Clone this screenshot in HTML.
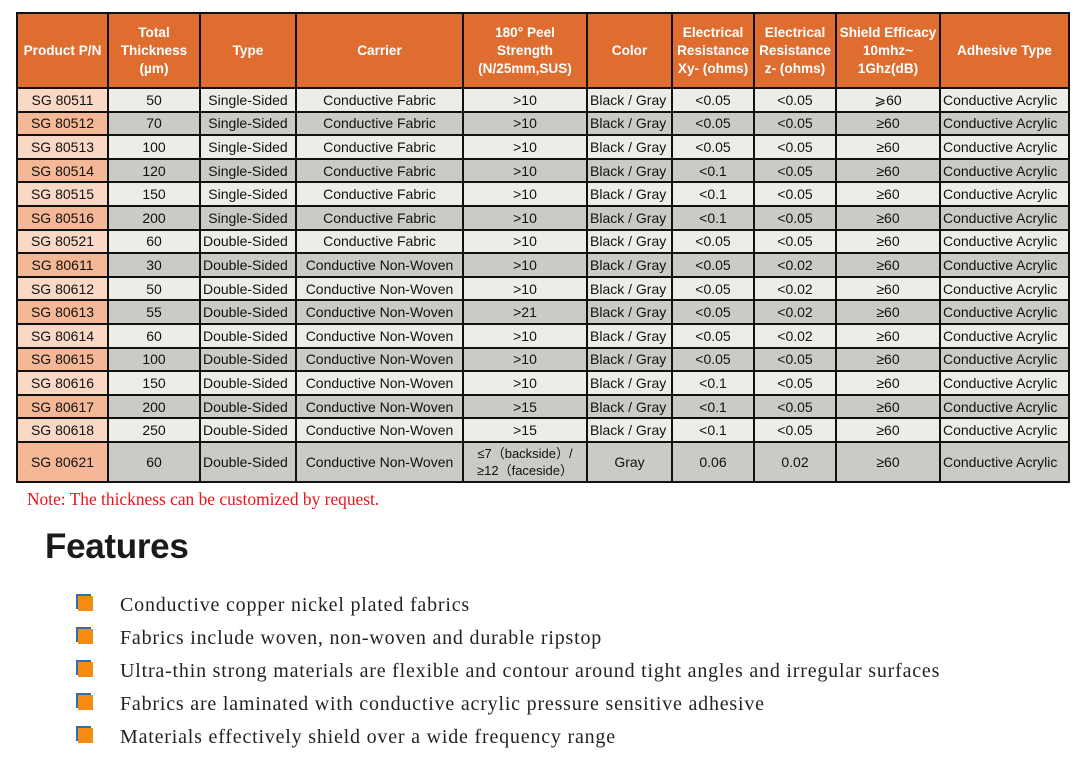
<!DOCTYPE html>
<html><head><meta charset="utf-8"><style>
body{margin:0;width:1084px;height:767px;background:#fff;position:relative;overflow:hidden;font-family:"Liberation Sans",Arial,sans-serif}
table{position:absolute;left:16px;top:12px;border-collapse:collapse;table-layout:fixed;width:1053px}
td,th{border:2px solid #111;text-align:center;font-size:14px;color:#111;padding:0;white-space:nowrap;overflow:hidden}
th{background:#e06d30;color:#fff;font-weight:bold;height:73px;line-height:18px;font-size:13.6px}
td{height:21.6px;line-height:18px}
tr.a td{background:#ececE8}tr.b td{background:#cacac6}
tr.a td:first-child{background:#fad8c6}tr.b td:first-child{background:#f4b896}
td.l{text-align:left;padding-left:2px}
.note{position:absolute;left:27px;top:489px;color:#e8141c;font-family:"Liberation Serif",serif;font-size:17.4px}
h1{position:absolute;left:45px;top:527px;margin:0;font-size:35px;font-weight:bold;color:#1a1a1a;letter-spacing:-0.3px}
.f{position:absolute;left:120px;font-family:"Liberation Serif",serif;font-size:20px;letter-spacing:0.8px;color:#222;line-height:22px;white-space:nowrap}
.sq{position:absolute;left:78px;width:15px;height:15px;background:#f68b12;box-shadow:-2px -2px 0 #2e6fb0}
</style></head><body>
<table>
<colgroup><col style="width:91px"><col style="width:92px"><col style="width:96px"><col style="width:167px"><col style="width:124px"><col style="width:85px"><col style="width:82px"><col style="width:82px"><col style="width:104px"><col style="width:129px"></colgroup>
<tr><th>Product P/N</th><th>Total<br>Thickness<br>(µm)</th><th>Type</th><th>Carrier</th><th>180° Peel<br>Strength<br>(N/25mm,SUS)</th><th>Color</th><th>Electrical<br>Resistance<br>Xy- (ohms)</th><th>Electrical<br>Resistance<br>z- (ohms)</th><th>Shield Efficacy<br>10mhz~<br>1Ghz(dB)</th><th>Adhesive Type</th></tr>
<tr class="a"><td>SG 80511</td><td>50</td><td>Single-Sided</td><td>Conductive Fabric</td><td>&gt;10</td><td class="l">Black / Gray</td><td>&lt;0.05</td><td>&lt;0.05</td><td>⩾60</td><td class="l">Conductive Acrylic</td></tr>
<tr class="b"><td>SG 80512</td><td>70</td><td>Single-Sided</td><td>Conductive Fabric</td><td>&gt;10</td><td class="l">Black / Gray</td><td>&lt;0.05</td><td>&lt;0.05</td><td>≥60</td><td class="l">Conductive Acrylic</td></tr>
<tr class="a"><td>SG 80513</td><td>100</td><td>Single-Sided</td><td>Conductive Fabric</td><td>&gt;10</td><td class="l">Black / Gray</td><td>&lt;0.05</td><td>&lt;0.05</td><td>≥60</td><td class="l">Conductive Acrylic</td></tr>
<tr class="b"><td>SG 80514</td><td>120</td><td>Single-Sided</td><td>Conductive Fabric</td><td>&gt;10</td><td class="l">Black / Gray</td><td>&lt;0.1</td><td>&lt;0.05</td><td>≥60</td><td class="l">Conductive Acrylic</td></tr>
<tr class="a"><td>SG 80515</td><td>150</td><td>Single-Sided</td><td>Conductive Fabric</td><td>&gt;10</td><td class="l">Black / Gray</td><td>&lt;0.1</td><td>&lt;0.05</td><td>≥60</td><td class="l">Conductive Acrylic</td></tr>
<tr class="b"><td>SG 80516</td><td>200</td><td>Single-Sided</td><td>Conductive Fabric</td><td>&gt;10</td><td class="l">Black / Gray</td><td>&lt;0.1</td><td>&lt;0.05</td><td>≥60</td><td class="l">Conductive Acrylic</td></tr>
<tr class="a"><td>SG 80521</td><td>60</td><td class="l">Double-Sided</td><td>Conductive Fabric</td><td>&gt;10</td><td class="l">Black / Gray</td><td>&lt;0.05</td><td>&lt;0.05</td><td>≥60</td><td class="l">Conductive Acrylic</td></tr>
<tr class="b"><td>SG 80611</td><td>30</td><td class="l">Double-Sided</td><td>Conductive Non-Woven</td><td>&gt;10</td><td class="l">Black / Gray</td><td>&lt;0.05</td><td>&lt;0.02</td><td>≥60</td><td class="l">Conductive Acrylic</td></tr>
<tr class="a"><td>SG 80612</td><td>50</td><td class="l">Double-Sided</td><td>Conductive Non-Woven</td><td>&gt;10</td><td class="l">Black / Gray</td><td>&lt;0.05</td><td>&lt;0.02</td><td>≥60</td><td class="l">Conductive Acrylic</td></tr>
<tr class="b"><td>SG 80613</td><td>55</td><td class="l">Double-Sided</td><td>Conductive Non-Woven</td><td>&gt;21</td><td class="l">Black / Gray</td><td>&lt;0.05</td><td>&lt;0.02</td><td>≥60</td><td class="l">Conductive Acrylic</td></tr>
<tr class="a"><td>SG 80614</td><td>60</td><td class="l">Double-Sided</td><td>Conductive Non-Woven</td><td>&gt;10</td><td class="l">Black / Gray</td><td>&lt;0.05</td><td>&lt;0.02</td><td>≥60</td><td class="l">Conductive Acrylic</td></tr>
<tr class="b"><td>SG 80615</td><td>100</td><td class="l">Double-Sided</td><td>Conductive Non-Woven</td><td>&gt;10</td><td class="l">Black / Gray</td><td>&lt;0.05</td><td>&lt;0.05</td><td>≥60</td><td class="l">Conductive Acrylic</td></tr>
<tr class="a"><td>SG 80616</td><td>150</td><td class="l">Double-Sided</td><td>Conductive Non-Woven</td><td>&gt;10</td><td class="l">Black / Gray</td><td>&lt;0.1</td><td>&lt;0.05</td><td>≥60</td><td class="l">Conductive Acrylic</td></tr>
<tr class="b"><td>SG 80617</td><td>200</td><td class="l">Double-Sided</td><td>Conductive Non-Woven</td><td>&gt;15</td><td class="l">Black / Gray</td><td>&lt;0.1</td><td>&lt;0.05</td><td>≥60</td><td class="l">Conductive Acrylic</td></tr>
<tr class="a"><td>SG 80618</td><td>250</td><td class="l">Double-Sided</td><td>Conductive Non-Woven</td><td>&gt;15</td><td class="l">Black / Gray</td><td>&lt;0.1</td><td>&lt;0.05</td><td>≥60</td><td class="l">Conductive Acrylic</td></tr>
<tr class="b"><td style="height:38px">SG 80621</td><td>60</td><td class="l">Double-Sided</td><td>Conductive Non-Woven</td><td style="font-size:13px;line-height:17px">≤7（backside）/<br>≥12（faceside）</td><td>Gray</td><td>0.06</td><td>0.02</td><td>≥60</td><td class="l">Conductive Acrylic</td></tr>
</table>
<div class="note">Note: The thickness can be customized by request.</div>
<h1>Features</h1>
<div class="sq" style="top:596px"></div><div class="f" style="top:594px">Conductive copper nickel plated fabrics</div>
<div class="sq" style="top:629px"></div><div class="f" style="top:627px">Fabrics include woven, non-woven and durable ripstop</div>
<div class="sq" style="top:662px"></div><div class="f" style="top:660px">Ultra-thin strong materials are flexible and contour around tight angles and irregular surfaces</div>
<div class="sq" style="top:695px"></div><div class="f" style="top:693px">Fabrics are laminated with conductive acrylic pressure sensitive adhesive</div>
<div class="sq" style="top:728px"></div><div class="f" style="top:726px">Materials effectively shield over a wide frequency range</div>
</body></html>
